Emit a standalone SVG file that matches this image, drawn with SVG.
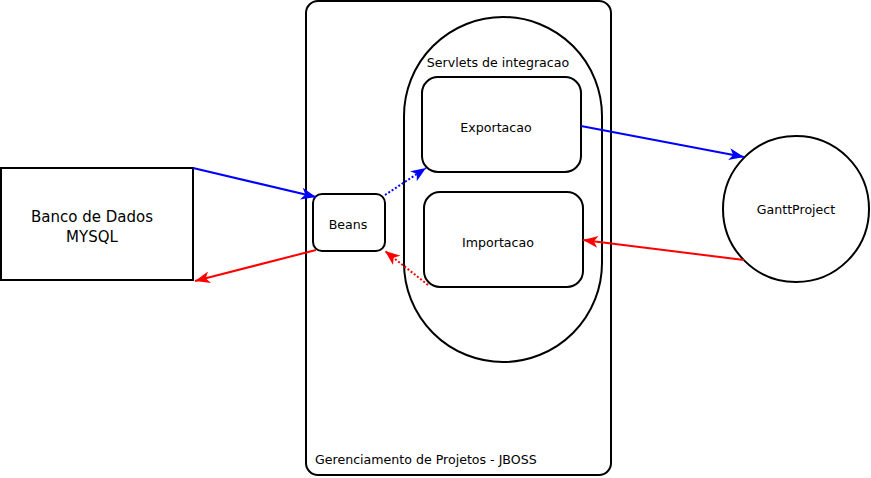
<svg xmlns="http://www.w3.org/2000/svg" width="871" height="478" viewBox="0 0 871 478">
<defs>
<style>
.box{fill:#fff;stroke:#000;stroke-width:2}
.t{font-family:"DejaVu Sans",sans-serif;fill:#000}
.s{font-size:12.6px}
.blue{stroke:#0000ff;stroke-width:2;fill:none}
.red{stroke:#ff0000;stroke-width:2;fill:none}
.dot{stroke-dasharray:2 2}
</style>
<marker id="ab" markerUnits="userSpaceOnUse" markerWidth="16" markerHeight="12" viewBox="0 0 16 12" refX="15" refY="6" orient="auto">
<path d="M0,0 L15,6 L0,12 L4,6 z" fill="#0000ff"/>
</marker>
<marker id="ar" markerUnits="userSpaceOnUse" markerWidth="16" markerHeight="12" viewBox="0 0 16 12" refX="15" refY="6" orient="auto">
<path d="M0,0 L15,6 L0,12 L4,6 z" fill="#ff0000"/>
</marker>
</defs>
<rect width="871" height="478" fill="#fff"/>
<g id="jboss">
<rect class="box" x="306" y="1" width="305" height="474" rx="12"/>
<text class="t s" x="315" y="464">Gerenciamento de Projetos - JBOSS</text>
</g>
<g id="servlets">
<rect class="box" x="404" y="17" width="198" height="345" rx="99"/>
<text class="t s" x="498" y="67" text-anchor="middle">Servlets de integracao</text>
</g>
<g id="exportacao">
<rect class="box" x="422" y="77" width="159" height="95" rx="16"/>
<text class="t s" x="496" y="132" text-anchor="middle">Exportacao</text>
</g>
<g id="importacao">
<rect class="box" x="424" y="192" width="159" height="95" rx="16"/>
<text class="t s" x="498" y="247" text-anchor="middle">Importacao</text>
</g>
<g id="beans">
<rect class="box" x="313" y="194" width="72" height="57" rx="9"/>
<text class="t s" x="348" y="229" text-anchor="middle">Beans</text>
</g>
<g id="banco">
<rect class="box" x="1" y="168" width="192" height="112"/>
<text class="t" x="92" y="222" font-size="15" text-anchor="middle">Banco de Dados</text>
<text class="t" x="92" y="242" font-size="15" text-anchor="middle">MYSQL</text>
</g>
<g id="gantt">
<circle class="box" cx="796" cy="209" r="73"/>
<text class="t s" x="796" y="214" text-anchor="middle">GanttProject</text>
</g>
<g id="connectors">
<line class="blue" x1="193" y1="168" x2="316" y2="197" marker-end="url(#ab)"/>
<line class="red" x1="316" y1="250" x2="195" y2="281" marker-end="url(#ar)"/>
<line class="blue dot" x1="385" y1="195" x2="426" y2="168" marker-end="url(#ab)"/>
<line class="red dot" x1="428" y1="285" x2="385" y2="251" marker-end="url(#ar)"/>
<line class="blue" x1="581" y1="126" x2="744" y2="157" marker-end="url(#ab)"/>
<line class="red" x1="744" y1="260" x2="583" y2="240" marker-end="url(#ar)"/>
</g>
</svg>
